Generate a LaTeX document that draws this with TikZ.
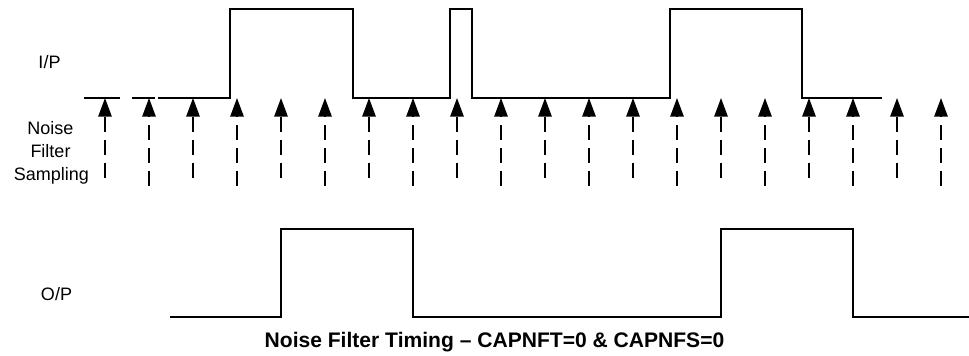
\documentclass[tikz,border=0pt]{standalone}
\usepackage{fontspec}
\setmainfont{Liberation Sans}
\usetikzlibrary{arrows.meta}
\begin{document}
\begin{tikzpicture}[x=0.75pt,y=-0.75pt,
  wave/.style={line width=1.4pt,line join=miter},
  sample/.style={line width=1.4pt,dash pattern=on 11.5pt off 5.8pt,-{Triangle[length=14pt,width=10pt]}},
  lbl/.style={font=\fontsize{13.5}{16.5}\selectfont,inner sep=0pt,align=center},
  captiontext/.style={font=\fontsize{15.8}{18}\selectfont\bfseries,inner sep=0pt}]
\useasboundingbox (0,0) rectangle (969,356);
% labels
\node[lbl,anchor=base] (ip) at (49.5,69) {I/P};
\node[lbl,anchor=base] (nf1) at (50.5,135) {Noise};
\node[lbl,anchor=base] (nf2) at (50.5,157.5) {Filter};
\node[lbl,anchor=base] (nf3) at (51.5,180) {Sampling};
\node[lbl,anchor=base] (op) at (56.5,300) {O/P};
\node[captiontext,anchor=base] (title) at (494.5,347) {Noise Filter Timing – CAPNFT=0 \& CAPNFS=0};
% input waveform
\draw[wave] (84,98) -- (120,98);
\draw[wave] (132,98) -- (155,98);
\draw[wave] (158,98) -- (230,98) -- (230,9) -- (353,9) -- (353,98) -- (450,98) -- (450,9)
  -- (472,9) -- (472,98) -- (670,98) -- (670,9) -- (802,9) -- (802,98) -- (882,98);
% sampling arrows
\foreach \k in {0,...,19}{
  \pgfmathsetmacro{\xx}{105+44*\k}
  \ifodd\k
    \coordinate (s\k) at (\xx,186);
  \else
    \coordinate (s\k) at (\xx,178);
  \fi
  \coordinate (t\k) at (\xx,98);
  \draw[sample] (s\k) -- (t\k);
}
% output waveform
\draw[wave] (170,317) -- (281,317) -- (281,229) -- (413,229) -- (413,317) -- (721,317)
  -- (721,229) -- (853,229) -- (853,317) -- (969,317);
\end{tikzpicture}
\end{document}
